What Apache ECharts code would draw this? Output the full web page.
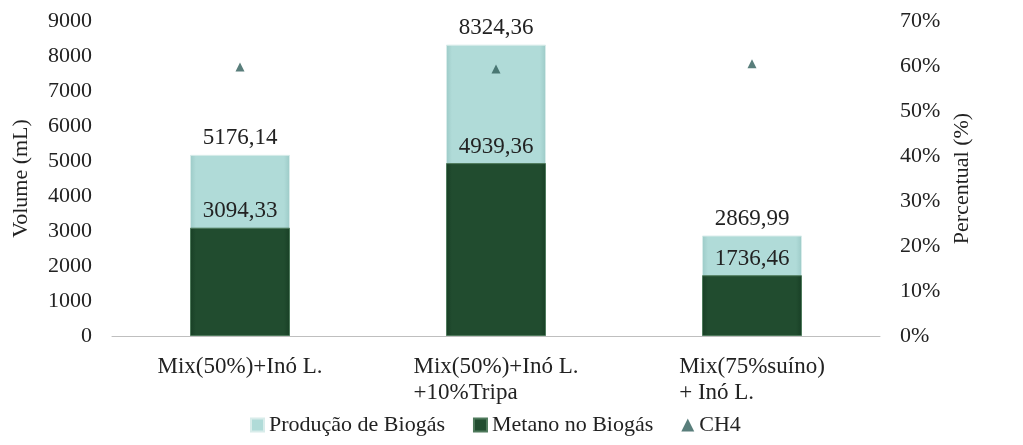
<!DOCTYPE html>
<html><head><meta charset="utf-8">
<script src="https://cdn.jsdelivr.net/npm/echarts@6/dist/echarts.min.js"></script>
<style>html,body{margin:0;padding:0;background:#fff}#c{width:1023px;height:445px}</style>
</head><body><div id="c"></div>
<script>
const categories = ['Mix(50%)+Inó L.', 'Mix(50%)+Inó L.\n+10%Tripa', 'Mix(75%suíno)\n+ Inó L.'];
const producao = [5176.14, 8324.36, 2869.99];
const metano = [3094.33, 4939.36, 1736.46];
const ch4 = [59.78, 59.34, 60.50];
const leftTicks = [0, 9000, 1000];
const rightTicks = [0, 70, 10];

const font = "'Liberation Serif', 'Times New Roman', serif";
const fmt = v => v.toFixed(2).replace('.', ',');
const chart = echarts.init(document.getElementById('c'));
chart.setOption({
  animation: false,
  textStyle: {fontFamily: font},
  grid: {left: 112, right: 143, top: 21, bottom: 109},
  legend: {
    left: 245, top: 409, itemGap: 28, itemWidth: 13, itemHeight: 13,
    textStyle: {fontFamily: font, fontSize: 22, color: '#222'},
    data: [
      {name: 'Produção de Biogás', icon: 'rect'},
      {name: 'Metano no Biogás', icon: 'rect'},
      {name: 'CH4', icon: 'triangle', itemStyle: {color: '#2f5e5a'}}
    ]
  },
  xAxis: {
    type: 'category', data: categories,
    axisLine: {lineStyle: {color: '#bfbfbf', width: 1}},
    axisTick: {show: false},
    axisLabel: {
      interval: 0, hideOverlap: false,
      fontFamily: font, fontSize: 23, color: '#222', margin: 18, lineHeight: 26,
      formatter: v => v.split('\n').map(l => '{a|' + l + '}').join('\n'),
      rich: {a: {align: 'left', fontFamily: font, fontSize: 23, color: '#222', lineHeight: 26}}
    }
  },
  yAxis: [
    {
      type: 'value', min: leftTicks[0], max: leftTicks[1], interval: leftTicks[2],
      name: 'Volume (mL)', nameLocation: 'middle', nameGap: 80, nameRotate: 90,
      nameTextStyle: {fontFamily: font, fontSize: 22, color: '#222'},
      axisLine: {show: false}, axisTick: {show: false}, splitLine: {show: false},
      axisLabel: {fontFamily: font, fontSize: 22, color: '#222', margin: 20, formatter: v => String(v)}
    },
    {
      type: 'value', min: rightTicks[0], max: rightTicks[1], interval: rightTicks[2],
      name: 'Percentual (%)', nameLocation: 'middle', nameGap: 66, nameRotate: 90,
      nameTextStyle: {fontFamily: font, fontSize: 22, color: '#222'},
      axisLine: {show: false}, axisTick: {show: false}, splitLine: {show: false},
      axisLabel: {fontFamily: font, fontSize: 22, color: '#222', margin: 20, formatter: '{value}%'}
    }
  ],
  series: [
    {
      name: 'Produção de Biogás', type: 'bar', data: producao, barWidth: 100,
      itemStyle: {
        color: new echarts.graphic.LinearGradient(0, 0, 1, 0, [
          {offset: 0, color: '#9ccac7'}, {offset: 0.06, color: '#b0dbd8'},
          {offset: 0.94, color: '#b0dbd8'}, {offset: 1, color: '#9ccac7'}
        ]),
        borderColor: '#d8ecea', borderWidth: 1
      },
      label: {show: true, position: 'top', distance: 5, fontFamily: font, fontSize: 23, color: '#222', formatter: p => fmt(p.value)}
    },
    {
      name: 'Metano no Biogás', type: 'bar', data: metano, barWidth: 100, barGap: '-100%',
      itemStyle: {
        color: new echarts.graphic.LinearGradient(0, 0, 1, 0, [
          {offset: 0, color: '#183f25'}, {offset: 0.06, color: '#214c2f'},
          {offset: 0.94, color: '#214c2f'}, {offset: 1, color: '#183f25'}
        ]),
        borderColor: '#4f7a5c', borderWidth: 1
      },
      label: {show: true, position: 'top', distance: 5, fontFamily: font, fontSize: 23, color: '#222', formatter: p => fmt(p.value)}
    },
    {
      name: 'CH4', type: 'scatter', yAxisIndex: 1, data: ch4,
      symbol: 'triangle', symbolSize: 9,
      itemStyle: {color: '#2f5e5a'}
    }
  ],
  color: ['#b0dbd8', '#214c2f', '#2f5e5a']
});
</script></body></html>
